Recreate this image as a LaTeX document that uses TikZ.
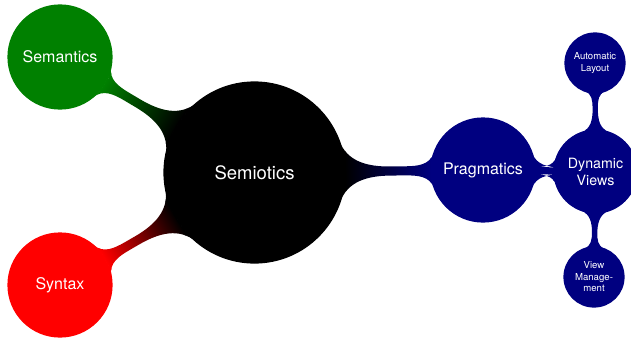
\documentclass[tikz,border=0pt]{standalone}
\usepackage{fontspec}
\setmainfont{TeX Gyre Heros}
\usetikzlibrary{mindmap,backgrounds}
\definecolor{semgreen}{rgb}{0,0.5,0}
\definecolor{navy}{rgb}{0,0,0.5}
\begin{document}
\begin{tikzpicture}[x=1pt,y=-1pt,mindmap,
  every concept/.style={text=white,inner sep=0pt,align=center},
  rootc/.style={concept,concept color=black,minimum size=181pt,text width=160pt,font=\fontsize{18.5}{22}\selectfont},
  lone/.style={concept,minimum size=104pt,text width=95pt,font=\fontsize{16}{19}\selectfont},
  ltwo/.style={concept,concept color=navy,minimum size=83pt,text width=70pt,font=\fontsize{14.2}{17}\selectfont},
  lthree/.style={concept,concept color=navy,minimum size=60pt,text width=52pt,font=\fontsize{9.6}{11.5}\selectfont}]
\useasboundingbox (0,0) rectangle (631,337);
\node[rootc] (semio) at (254.5,172.5) {Semiotics};
\node[lone,concept color=semgreen] (sema) at (60,57) {Semantics};
\node[lone,concept color=red] (syn) at (60,285) {Syntax};
\node[lone,concept color=navy] (prag) at (483,170) {Pragmatics};
\node[ltwo] (dyn) at (595.5,171.5) {Dynamic\\Views};
\node[lthree] (auto) at (595,63) {Automatic\\Layout};
\node[lthree] (view) at (594,277) {View\\Manage-\\ment};
\begin{pgfonlayer}{background}
\path[line width=10pt] (semio) to[circle connection bar switch color=from (black) to (semgreen)] (sema);
\path[line width=10pt] (semio) to[circle connection bar switch color=from (black) to (red)] (syn);
\path[line width=10pt] (semio) to[circle connection bar switch color=from (black) to (navy)] (prag);
\path[line width=9pt] (prag) to[circle connection bar switch color=from (navy) to (navy)] (dyn);
\path[line width=5.5pt] (dyn) to[circle connection bar switch color=from (navy) to (navy)] (auto);
\path[line width=5.5pt] (dyn) to[circle connection bar switch color=from (navy) to (navy)] (view);
\end{pgfonlayer}
\end{tikzpicture}
\end{document}
